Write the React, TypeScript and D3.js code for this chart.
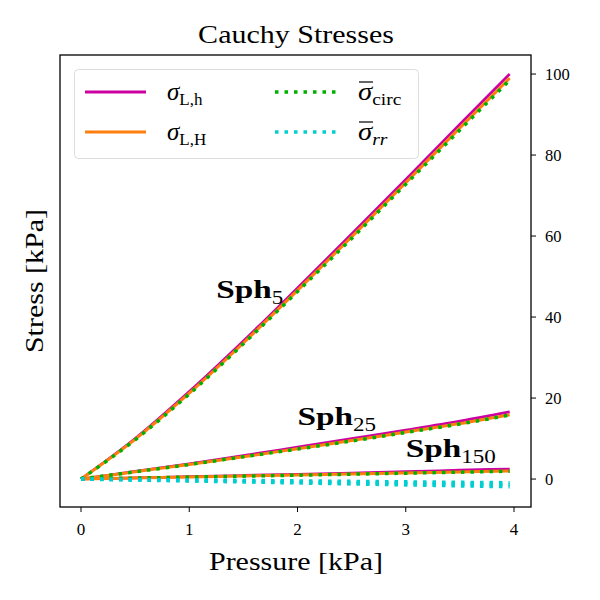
import * as d3 from 'd3';

// pressure steps [kPa]
const pressure = [0, 0.5, 1, 1.5, 2, 2.5, 3, 3.5, 3.96];

// Cauchy stresses [kPa] per sphere
const sph5Lh = [0, 10.0, 21.6, 34.1, 47.2, 60.5, 74.0, 87.6, 100.0];
const sph5LH = [0, 9.8, 21.2, 33.6, 46.6, 59.8, 73.2, 86.7, 99.0];
const sph5Circ = [0, 9.7, 21.0, 33.4, 46.3, 59.4, 72.8, 86.2, 98.5];
const sph5Rr = [0, -0.24, -0.48, -0.72, -0.96, -1.2, -1.44, -1.68, -1.9];

const sph25Lh = [0, 1.9, 3.8, 5.8, 7.9, 10.0, 12.1, 14.3, 16.6];
const sph25LH = [0, 1.8, 3.6, 5.5, 7.5, 9.5, 11.6, 13.7, 15.9];
const sph25Circ = [0, 1.8, 3.6, 5.5, 7.4, 9.4, 11.5, 13.6, 15.8];
const sph25Rr = [0, -0.18, -0.36, -0.54, -0.72, -0.9, -1.08, -1.25, -1.4];

const sph150Lh = [0, 0.3, 0.6, 0.9, 1.2, 1.5, 1.85, 2.2, 2.5];
const sph150LH = [0, 0.25, 0.5, 0.75, 1.0, 1.25, 1.5, 1.75, 2.0];
const sph150Circ = [0, 0.24, 0.48, 0.72, 0.96, 1.2, 1.45, 1.7, 1.95];
const sph150Rr = [0, -0.11, -0.23, -0.34, -0.45, -0.57, -0.68, -0.8, -0.9];

const xTicks = [0, 1, 2, 3, 4];
const yTicks = [0, 20, 40, 60, 80, 100];

const C_LH = '#cc00a0';
const C_LBIG = '#ff7f0e';
const C_CIRC = '#00b000';
const C_RR = '#00ced1';

const FONT = '"Liberation Serif", "DejaVu Serif", serif';

const left = 60, right = 531, top = 55, bottom = 507;

function SphLabel({ px, py, sub }: { px: number; py: number; sub: string }) {
  return (
    <text transform={`translate(${px},${py}) scale(1.28,1)`} fontSize={26}>
      <tspan fontWeight="bold">Sph</tspan>
      <tspan fontSize={18} dy={6}>{sub}</tspan>
    </text>
  );
}

export default function App() {
  const x = d3.scaleLinear().domain([-0.194, 4.157]).range([left, right]);
  const y = d3.scaleLinear().domain([-6.9, 104.7]).range([bottom, top]);

  const line = (vals: number[]) =>
    d3
      .line<number>()
      .x((_, i) => x(pressure[i]))
      .y((d) => y(d))
      .curve(d3.curveMonotoneX)(vals) ?? '';

  const solid = [
    { v: [sph5Lh, sph25Lh, sph150Lh], c: C_LH, w: 2.6 },
    { v: [sph5LH, sph25LH, sph150LH], c: C_LBIG, w: 3 },
  ];
  const dotted = [
    { v: [sph5Circ, sph25Circ, sph150Circ], c: C_CIRC },
    { v: [sph5Rr, sph25Rr, sph150Rr], c: C_RR },
  ];

  return (
    <svg width={600} height={600} style={{ position: 'absolute', left: 0, top: 0 }} fontFamily={FONT}>
      <rect width={600} height={600} fill="#fff" />
      <text transform="translate(296,43) scale(1.2,1)" textAnchor="middle" fontSize={25}>Cauchy Stresses</text>

      <defs>
        <clipPath id="plot">
          <rect x={left} y={top} width={right - left} height={bottom - top} />
        </clipPath>
      </defs>

      <g clipPath="url(#plot)">
        {solid.map((s, i) =>
          s.v.map((vals, j) => (
            <path key={`s${i}${j}`} d={line(vals)} fill="none" stroke={s.c} strokeWidth={s.w} />
          ))
        )}
        {dotted.map((s, i) =>
          s.v.map((vals, j) => (
            <path key={`d${i}${j}`} d={line(vals)} fill="none" stroke={s.c} strokeWidth={3.5} strokeDasharray="3.5,6" />
          ))
        )}
      </g>

      {/* curve labels */}
      <SphLabel px={x(1.25)} py={298} sub="5" />
      <SphLabel px={x(2.0)} py={425} sub="25" />
      <SphLabel px={x(3.0)} py={457} sub="150" />

      <rect x={left} y={top} width={right - left} height={bottom - top} fill="none" stroke="#000" strokeWidth={1.3} />

      {/* x axis */}
      {xTicks.map((t) => (
        <g key={`x${t}`}>
          <line x1={x(t)} x2={x(t)} y1={bottom} y2={bottom + 5} stroke="#000" strokeWidth={1} />
          <text x={x(t)} y={bottom + 28} textAnchor="middle" fontSize={17}>{t}</text>
        </g>
      ))}
      <text transform="translate(296,570) scale(1.2,1)" textAnchor="middle" fontSize={25}>Pressure [kPa]</text>

      {/* y axis on the right */}
      {yTicks.map((t) => (
        <g key={`y${t}`}>
          <line x1={right} x2={right + 5} y1={y(t)} y2={y(t)} stroke="#000" strokeWidth={1} />
          <text x={right + 14} y={y(t) + 6} fontSize={16.5}>{t}</text>
        </g>
      ))}
      <text transform="translate(43,281) rotate(-90) scale(1.2,1)" textAnchor="middle" fontSize={25}>Stress [kPa]</text>

      {/* legend */}
      <rect x={74.5} y={69.5} width={344} height={89} rx={4} fill="#fff" fillOpacity={0.8} stroke="#ddd" strokeWidth={1} />
      <line x1={85} x2={146} y1={92} y2={92} stroke={C_LH} strokeWidth={3} />
      <line x1={85} x2={146} y1={132} y2={132} stroke={C_LBIG} strokeWidth={3} />
      <line x1={275} x2={336} y1={92} y2={92} stroke={C_CIRC} strokeWidth={3.5} strokeDasharray="3.5,6" />
      <line x1={275} x2={336} y1={132} y2={132} stroke={C_RR} strokeWidth={3.5} strokeDasharray="3.5,6" />
      <text x={167} y={100} fontSize={25}>
        <tspan fontStyle="italic">σ</tspan>
        <tspan fontSize={17} dy={5}>L,h</tspan>
      </text>
      <text x={167} y={140} fontSize={25}>
        <tspan fontStyle="italic">σ</tspan>
        <tspan fontSize={17} dy={5}>L,H</tspan>
      </text>
      <text transform="translate(358,100) scale(1.15,1)" fontSize={25}>
        <tspan fontStyle="italic">σ</tspan>
        <tspan fontSize={17} dy={5}>circ</tspan>
      </text>
      <line x1={359} x2={373} y1={82} y2={82} stroke="#000" strokeWidth={1.2} />
      <text transform="translate(358,140) scale(1.15,1)" fontSize={25}>
        <tspan fontStyle="italic">σ</tspan>
        <tspan fontSize={17} dy={5} fontStyle="italic">rr</tspan>
      </text>
      <line x1={359} x2={373} y1={122} y2={122} stroke="#000" strokeWidth={1.2} />
    </svg>
  );
}
